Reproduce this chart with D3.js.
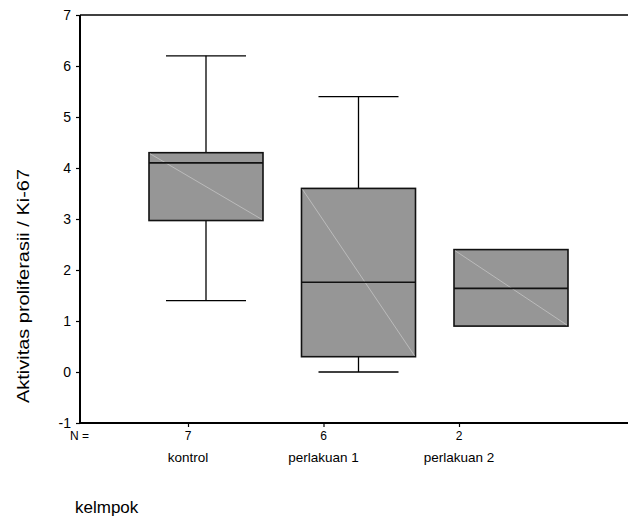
<!DOCTYPE html>
<html>
<head>
<meta charset="utf-8">
<script src="https://cdn.jsdelivr.net/npm/d3@7"></script>
<style>
  body { margin: 0; background: #fff; }
  svg { display: block; font-family: "Liberation Sans", Arial, sans-serif; }
</style>
</head>
<body>
<svg width="628" height="520"></svg>
<script>
// boxplot per kelompok (SPSS style)
const categories = ["kontrol", "perlakuan 1", "perlakuan 2"]
const nValues = [7, 6, 2]
const maxVals = [6.2, 5.4, 2.4]
const q3Vals = [4.3, 3.6, 2.4]
const medianVals = [4.1, 1.76, 1.64]
const q1Vals = [2.97, 0.3, 0.9]
const minVals = [1.4, 0, 0.9]
const yTicks = [-1, 0, 1, 2, 3, 4, 5, 6, 7]

const svg = d3.select("svg")

const y = d3.scaleLinear().domain([-1, 7]).range([423, 15])
// tick positions and box positions are slightly offset in the original picture
const xTick = d3.scaleLinear().domain([0, 2]).range([188, 459])
const xBox = d3.scaleLinear().domain([0, 2]).range([206, 511])
const boxW = 114
const capW = 80

const data = categories.map((c, i) => ({
    name: c, n: nValues[i], max: maxVals[i], q3: q3Vals[i],
    med: medianVals[i], q1: q1Vals[i], min: minVals[i], i: i
}))

// frame lines
svg.append("line")
    .attr("x1", 80).attr("x2", 628)
    .attr("y1", y(7)).attr("y2", y(7))
    .style("stroke", "#000").style("stroke-width", 1.5)

// y axis
const yAxis = svg.append("g")
    .attr("transform", "translate(80,0)")
    .call(d3.axisLeft(y).tickValues(yTicks).tickSize(4).tickPadding(5).tickFormat(d => String(d)))
yAxis.select(".domain").attr("d", `M0,${y(-1)}V${y(7)}`).style("stroke-width", 2)
yAxis.selectAll(".tick line").style("stroke-width", 1.2)
yAxis.selectAll("text").style("font-size", "14px").style("fill", "#000")
    .style("font-family", "'Liberation Sans', Arial, sans-serif")

// x axis
const xAxis = svg.append("g")
    .attr("transform", `translate(0,${y(-1)})`)
    .call(d3.axisBottom(xTick).tickValues([0, 1, 2]).tickSize(4).tickFormat(""))
xAxis.select(".domain").attr("d", "M80,0H628").style("stroke-width", 2)
xAxis.selectAll(".tick line").style("stroke-width", 1.2)

// whiskers
const g = svg.append("g")
const wh = data.filter(d => d.max > d.q3 || d.min < d.q1)

g.selectAll("line.wup")
    .data(wh)
    .enter()
    .append("line")
    .attr("class", "wup")
    .attr("x1", d => xBox(d.i)).attr("x2", d => xBox(d.i))
    .attr("y1", d => y(d.q3)).attr("y2", d => y(d.max))
    .style("stroke", "#000").style("stroke-width", 1.3)

g.selectAll("line.wdn")
    .data(wh)
    .enter()
    .append("line")
    .attr("class", "wdn")
    .attr("x1", d => xBox(d.i)).attr("x2", d => xBox(d.i))
    .attr("y1", d => y(d.q1)).attr("y2", d => y(d.min))
    .style("stroke", "#000").style("stroke-width", 1.3)

g.selectAll("line.capmax")
    .data(wh)
    .enter()
    .append("line")
    .attr("class", "capmax")
    .attr("x1", d => xBox(d.i) - capW / 2).attr("x2", d => xBox(d.i) + capW / 2)
    .attr("y1", d => y(d.max)).attr("y2", d => y(d.max))
    .style("stroke", "#000").style("stroke-width", 1.3)

g.selectAll("line.capmin")
    .data(wh)
    .enter()
    .append("line")
    .attr("class", "capmin")
    .attr("x1", d => xBox(d.i) - capW / 2).attr("x2", d => xBox(d.i) + capW / 2)
    .attr("y1", d => y(d.min)).attr("y2", d => y(d.min))
    .style("stroke", "#000").style("stroke-width", 1.3)

// boxes
g.selectAll("rect.box")
    .data(data)
    .enter()
    .append("rect")
    .attr("class", "box")
    .attr("x", d => xBox(d.i) - boxW / 2)
    .attr("y", d => y(d.q3))
    .attr("width", boxW)
    .attr("height", d => y(d.q1) - y(d.q3))
    .style("fill", "#969696")
    .style("stroke", "#111").style("stroke-width", 1.6)

g.selectAll("line.diag")
    .data(data)
    .enter()
    .append("line")
    .attr("class", "diag")
    .attr("x1", d => xBox(d.i) - boxW / 2 + 1).attr("y1", d => y(d.q3) + 1)
    .attr("x2", d => xBox(d.i) + boxW / 2 - 1).attr("y2", d => y(d.q1) - 1)
    .style("stroke", "#c4c4c4").style("stroke-width", 0.8)

g.selectAll("line.med")
    .data(data)
    .enter()
    .append("line")
    .attr("class", "med")
    .attr("x1", d => xBox(d.i) - boxW / 2).attr("x2", d => xBox(d.i) + boxW / 2)
    .attr("y1", d => y(d.med)).attr("y2", d => y(d.med))
    .style("stroke", "#111").style("stroke-width", 1.6)

// N = row and category labels
svg.append("text")
    .attr("x", 70).attr("y", 440)
    .style("font-size", "12px")
    .text("N =")

svg.selectAll("text.n")
    .data(data)
    .enter()
    .append("text")
    .attr("class", "n")
    .attr("x", d => xTick(d.i)).attr("y", 440)
    .style("text-anchor", "middle").style("font-size", "12px")
    .text(d => d.n)

svg.selectAll("text.cat")
    .data(data)
    .enter()
    .append("text")
    .attr("class", "cat")
    .attr("x", d => xTick(d.i)).attr("y", 462)
    .style("text-anchor", "middle").style("font-size", "13.5px")
    .text(d => d.name)

// axis titles
svg.append("text")
    .attr("x", 75).attr("y", 513)
    .style("font-size", "17px")
    .text("kelmpok")

svg.append("text")
    .attr("transform", "translate(29,286) rotate(-90)")
    .attr("textLength", 234)
    .attr("lengthAdjust", "spacingAndGlyphs")
    .style("text-anchor", "middle").style("font-size", "17px")
    .text("Aktivitas proliferasii / Ki-67")
</script>
</body>
</html>
